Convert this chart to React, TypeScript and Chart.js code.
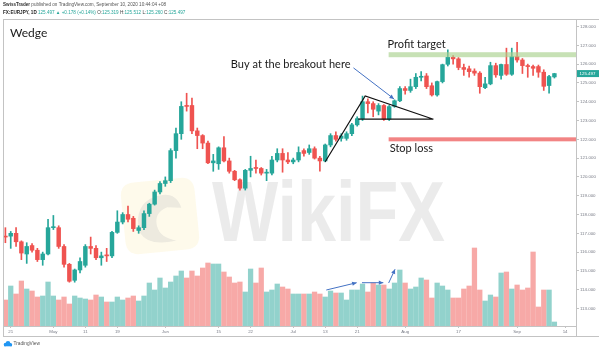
import React, { useEffect, useRef } from 'react';
import { Chart, registerables } from 'chart.js';

Chart.register(...registerables);

// ---- Daily EUR/JPY candles (Apr 20 - Sep 10, 2020), index 0..103 ----
const opens = [
  116.85, 116.85, 117.0, 116.55, 115.9, 116.35, 116.1, 115.6, 115.9, 117.3,
  117.3, 116.3, 115.35, 114.5, 115.05, 115.3, 116.3, 116.2, 115.7, 115.85,
  115.8, 117.05, 117.6, 118.0, 117.8, 117.15, 117.3, 118.05, 118.55, 119.2,
  119.65, 119.8, 121.4, 122.3, 123.8, 123.8, 122.45, 122.2, 121.8, 120.75,
  120.7, 121.55, 120.85, 120.3, 119.85, 119.4, 120.35, 120.5, 120.45, 120.2,
  120.2, 120.9, 121.25, 120.9, 120.8, 120.9, 121.4, 121.3, 121.5, 121.0,
  120.85, 121.7, 122.2, 122.05, 122.05, 122.3, 122.77, 123.1, 124.0, 123.9,
  123.5, 123.8, 123.07, 123.75, 124.05, 124.7, 124.6, 124.8, 125.3, 125.37,
  124.85, 124.36, 125.07, 125.99, 126.36, 126.28, 125.82, 125.75, 125.63, 125.52,
  124.75, 124.95, 125.92, 125.4, 125.98, 125.46, 126.4, 126.22, 125.92, 125.87,
  125.87, 125.57, 124.86, 125.319,
];
const highs = [
  117.3, 117.1, 117.3, 116.6, 116.5, 116.45, 116.2, 116.0, 117.75, 117.95,
  117.4, 116.4, 115.4, 115.1, 115.7, 116.4, 116.8, 116.35, 116.0, 116.2,
  117.1, 118.2, 118.1, 118.45, 117.9, 117.4, 118.2, 118.6, 119.3, 119.75,
  120.0, 121.5, 122.6, 124.0, 124.45, 124.2, 122.6, 122.25, 121.9, 121.2,
  121.6, 122.15, 121.0, 120.35, 119.9, 120.4, 121.1, 120.9, 120.5, 120.4,
  121.1, 121.5, 121.5, 121.3, 121.0, 121.6, 121.5, 121.7, 121.6, 121.1,
  121.75, 122.3, 122.4, 122.3, 122.4, 122.85, 123.2, 124.3, 124.15, 124.0,
  123.9, 123.85, 123.8, 124.1, 124.8, 124.8, 125.2, 125.5, 125.6, 125.5,
  125.0, 125.1, 126.0, 126.76, 126.45, 126.35, 126.0, 125.9, 125.75, 125.6,
  125.3, 126.1, 126.05, 126.0, 126.85, 126.85, 127.16, 126.3, 126.0, 125.95,
  125.95, 125.7, 125.4, 125.512,
];
const lows = [
  116.5, 116.2, 116.3, 115.6, 115.4, 116.0, 115.5, 115.3, 115.85, 117.2,
  116.2, 115.2, 114.4, 114.4, 114.9, 115.2, 115.9, 115.6, 115.3, 115.5,
  115.7, 117.0, 117.5, 117.6, 117.1, 117.0, 117.2, 117.9, 118.5, 119.1,
  119.5, 119.7, 121.0, 122.0, 123.5, 122.3, 121.5, 121.5, 120.7, 120.3,
  120.4, 120.8, 120.2, 119.8, 119.3, 119.3, 120.0, 120.2, 120.1, 119.8,
  120.1, 120.8, 120.25, 120.7, 120.7, 120.8, 121.1, 121.2, 120.95, 120.3,
  120.8, 121.6, 121.9, 121.9, 121.95, 122.2, 122.7, 123.0, 123.4, 123.2,
  123.3, 123.0, 123.0, 123.7, 124.0, 124.4, 124.5, 124.7, 125.1, 124.7,
  124.3, 124.3, 125.0, 125.9, 126.0, 125.7, 125.4, 125.3, 125.4, 124.45,
  124.7, 124.9, 125.3, 125.2, 125.4, 125.4, 126.1, 125.5, 125.3, 125.4,
  125.3, 124.6, 124.45, 125.26,
];
const closes = [
  116.8, 117.0, 116.55, 115.95, 116.3, 116.1, 115.6, 115.9, 117.3, 117.35,
  116.3, 115.35, 114.45, 115.05, 115.5, 116.3, 116.2, 115.7, 115.8, 115.8,
  117.05, 117.6, 118.0, 117.75, 117.25, 117.3, 118.05, 118.55, 119.2, 119.65,
  119.8, 121.4, 122.3, 123.75, 123.75, 122.45, 122.2, 121.8, 120.75, 120.85,
  121.55, 120.85, 120.3, 119.85, 119.4, 120.35, 120.45, 120.45, 120.2, 120.25,
  120.9, 121.25, 120.9, 120.8, 120.9, 121.3, 121.25, 121.5, 121.0, 120.85,
  121.7, 122.2, 122.0, 122.18, 122.3, 122.77, 123.1, 124.0, 123.9, 123.6,
  123.8, 123.07, 123.74, 124.05, 124.7, 124.6, 124.8, 125.3, 125.35, 124.8,
  124.36, 125.07, 125.97, 126.36, 126.28, 125.82, 125.72, 125.6, 125.52, 124.8,
  124.95, 125.92, 125.43, 125.98, 125.46, 126.4, 126.22, 125.92, 125.87, 125.78,
  125.57, 124.82, 125.34, 125.497,
];
const volumes = [
  26, 40, 32, 45, 37, 35, 29, 30, 44, 30,
  26, 29, 22, 30, 28, 27, 26, 31, 29, 24,
  24, 29, 26, 28, 30, 25, 30, 43, 36, 48,
  38, 44, 50, 55, 48, 55, 50, 58, 63, 62,
  62, 54, 49, 43, 44, 34, 57, 43, 58, 34,
  36, 42, 39, 37, 32, 32, 32, 32, 34, 32,
  29, 35, 33, 33, 26, 36, 36, 42, 34, 43,
  41, 41, 37, 43, 56, 43, 37, 39, 48, 46,
  28, 43, 40, 36, 28, 28, 37, 40, 78, 36,
  25, 31, 29, 53, 54, 37, 41, 36, 38, 74,
  19, 36, 36, 4,
];

// ---- Axis ticks ----
const xTickIndex = [1, 9, 15, 21, 30, 40, 46, 54, 60, 66, 75, 85, 96, 105];
const xTickLabels = ['21', 'May', '11', '19', 'Jun', '15', '22', 'Jul', '13', '21', 'Aug', '17', 'Sep', '14'];
const priceTicks = [113, 114, 115, 116, 117, 118, 119, 120, 121, 122, 123, 124, 125, 126, 127, 128];

// ---- Annotations (data coordinates: [candle index, price]) ----
const profitTarget = 126.5;
const stopLoss = 122;
const levelStartIndex = 71.9;
const wedgeLine = [[60, 120.81], [67.5, 124.31], [80.3, 123.07]];
const wedgeBase = [[66.2, 123.07], [80.3, 123.07]];
const buyArrow = [[65.3, 125.8], [72.9, 124.15]];
const volumeArrows = [
  [[60.2, 36], [65.9, 43.3]],
  [[66.9, 43.3], [70.9, 43.3]],
  [[71.9, 43], [73.1, 56.7]],
];
const labelProfit = { text: 'Profit target', at: [71.7, 127.05] };
const labelStop = { text: 'Stop loss', at: [72.1, 121.49] };
const labelBuy = { text: 'Buy at the breakout here', at: [42.3, 125.96] };

const TEAL = '#26a69a';
const RED = '#ef5350';
const TEAL_VOL = 'rgba(38,166,154,0.5)';
const RED_VOL = 'rgba(239,83,80,0.5)';
const FRAME = '#c3c3c3';
const ARROW = '#4472c4';

function drawArrow(ctx: CanvasRenderingContext2D, x1: number, y1: number, x2: number, y2: number) {
  ctx.save();
  ctx.strokeStyle = ARROW;
  ctx.fillStyle = ARROW;
  ctx.lineWidth = 1;
  ctx.beginPath();
  ctx.moveTo(x1, y1);
  ctx.lineTo(x2, y2);
  ctx.stroke();
  const a = Math.atan2(y2 - y1, x2 - x1);
  const h = 5;
  ctx.beginPath();
  ctx.moveTo(x2, y2);
  ctx.lineTo(x2 - h * Math.cos(a - 0.45), y2 - h * Math.sin(a - 0.45));
  ctx.lineTo(x2 - h * Math.cos(a + 0.45), y2 - h * Math.sin(a + 0.45));
  ctx.closePath();
  ctx.fill();
  ctx.restore();
}

function roundRect(ctx: CanvasRenderingContext2D, x: number, y: number, w: number, h: number, r: number) {
  ctx.beginPath();
  ctx.moveTo(x + r, y);
  ctx.lineTo(x + w - r, y);
  ctx.quadraticCurveTo(x + w, y, x + w, y + r);
  ctx.lineTo(x + w, y + h - r);
  ctx.quadraticCurveTo(x + w, y + h, x + w - r, y + h);
  ctx.lineTo(x + r, y + h);
  ctx.quadraticCurveTo(x, y + h, x, y + h - r);
  ctx.lineTo(x, y + r);
  ctx.quadraticCurveTo(x, y, x + r, y);
  ctx.closePath();
}

function drawSegs(ctx: CanvasRenderingContext2D, x: number, y: number, size: number, segs: [string, string, boolean][]) {
  for (const [text, color, bold] of segs) {
    ctx.font = `${bold ? 'bold ' : ''}${size}px "Liberation Sans"`;
    ctx.fillStyle = color;
    ctx.fillText(text, x, y);
    x += ctx.measureText(text).width;
  }
}

const overlayPlugin = {
  id: 'overlay',
  beforeDatasetsDraw(chart: any) {
    const ctx: CanvasRenderingContext2D = chart.ctx;
    ctx.save();
    // WikiFX watermark (logo square + eagle)
    ctx.translate(160, 216);
    ctx.rotate(-0.1);
    ctx.fillStyle = 'rgba(252, 238, 190, 0.3)';
    roundRect(ctx, -37, -36, 74, 72, 14);
    ctx.fill();
    ctx.fillStyle = 'rgba(195,195,195,0.3)';
    ctx.beginPath();
    ctx.moveTo(-22, 14);
    ctx.quadraticCurveTo(-26, -14, -2, -20);
    ctx.quadraticCurveTo(18, -24, 22, -6);
    ctx.lineTo(8, -8);
    ctx.quadraticCurveTo(-6, -4, -4, 10);
    ctx.quadraticCurveTo(-2, 22, 14, 26);
    ctx.quadraticCurveTo(-14, 30, -22, 14);
    ctx.closePath();
    ctx.fill();
    ctx.restore();

    ctx.save();
    ctx.fillStyle = 'rgba(210,210,210,0.45)';
    ctx.font = 'bold 86px "Liberation Sans"';
    ctx.textBaseline = 'alphabetic';
    ctx.translate(212, 241);
    ctx.scale(0.815, 1);
    ctx.fillText('WikiFX', 0, 0);
    ctx.restore();
  },
  afterDraw(chart: any) {
    const ctx: CanvasRenderingContext2D = chart.ctx;
    const { x, y, yv } = chart.scales;
    const area = chart.chartArea;
    const px = (i: number) => x.getPixelForValue(i);
    const py = (p: number) => y.getPixelForValue(p);
    const pv = (v: number) => yv.getPixelForValue(v);
    ctx.save();

    // frame
    ctx.strokeStyle = FRAME;
    ctx.lineWidth = 1;
    ctx.beginPath();
    ctx.moveTo(area.left + 0.5, area.top);
    ctx.lineTo(area.left + 0.5, 337);
    ctx.moveTo(area.left, area.top + 0.5);
    ctx.lineTo(599, area.top + 0.5);
    ctx.moveTo(area.left, 336.5);
    ctx.lineTo(599, 336.5);
    ctx.moveTo(area.right + 0.5, area.bottom);
    ctx.lineTo(area.right + 0.5, 337);
    ctx.stroke();

    // profit target band and stop-loss line
    ctx.fillStyle = 'rgba(169, 209, 142, 0.65)';
    ctx.fillRect(px(levelStartIndex), py(profitTarget) - 2.5, area.right - px(levelStartIndex), 5);
    ctx.fillStyle = 'rgba(240, 110, 110, 0.85)';
    ctx.fillRect(px(levelStartIndex), py(stopLoss) - 2, area.right - px(levelStartIndex), 4);

    // wedge
    ctx.strokeStyle = '#111';
    ctx.lineWidth = 1.2;
    ctx.beginPath();
    wedgeLine.forEach(([i, p], k) => (k === 0 ? ctx.moveTo(px(i), py(p)) : ctx.lineTo(px(i), py(p))));
    ctx.moveTo(px(wedgeBase[0][0]), py(wedgeBase[0][1]));
    ctx.lineTo(px(wedgeBase[1][0]), py(wedgeBase[1][1]));
    ctx.stroke();

    // arrows
    drawArrow(ctx, px(buyArrow[0][0]), py(buyArrow[0][1]), px(buyArrow[1][0]), py(buyArrow[1][1]));
    volumeArrows.forEach(([a, b]) => drawArrow(ctx, px(a[0]), pv(a[1]), px(b[0]), pv(b[1])));

    // text labels
    ctx.fillStyle = '#1a1a1a';
    ctx.textBaseline = 'middle';
    ctx.textAlign = 'left';
    ctx.font = '12px Lato';
    ctx.fillText('Wedge', 10, 33);
    ctx.font = '11px Lato';
    for (const l of [labelProfit, labelStop, labelBuy]) {
      ctx.fillText(l.text, px(l.at[0]), py(l.at[1]));
    }

    // header
    ctx.textBaseline = 'middle';
    drawSegs(ctx, 3, 5, 4.6, [
      ['SwissTrader', '#333', true],
      [' published on TradingView.com, September 10, 2020 10:44:04 +08', '#555', false],
    ]);
    drawSegs(ctx, 3, 12.5, 4.6, [
      ['FX:EURJPY, 1D ', '#222', true],
      ['125.497 \u25B2 +0.178 (+0.14%) ', TEAL, false],
      ['O:', '#444', false], ['125.319 ', TEAL, false],
      ['H:', '#444', false], ['125.512 ', TEAL, false],
      ['L:', '#444', false], ['125.260 ', TEAL, false],
      ['C:', '#444', false], ['125.497', TEAL, false],
    ]);

    // last price badge
    const lastClose = closes[closes.length - 1];
    const by = py(lastClose);
    ctx.fillStyle = TEAL;
    ctx.fillRect(area.right + 1, by - 3.5, 22, 7);
    ctx.fillStyle = '#fff';
    ctx.font = '4.4px "Liberation Sans"';
    ctx.fillText(lastClose.toFixed(3), area.right + 3.5, by + 0.3);

    // TradingView logo
    ctx.fillStyle = '#2196f3';
    ctx.beginPath();
    ctx.arc(5.5, 344.5, 1.8, 0, Math.PI * 2);
    ctx.arc(8, 343.3, 2.3, 0, Math.PI * 2);
    ctx.arc(10.5, 344.6, 1.7, 0, Math.PI * 2);
    ctx.fill();
    ctx.fillRect(4, 344.5, 8, 1.8);
    ctx.fillStyle = '#555';
    ctx.font = '4.8px "Liberation Sans"';
    ctx.fillText('TradingView', 13.5, 344);
    ctx.restore();
  },
};

export default function App() {
  const ref = useRef<HTMLCanvasElement>(null);
  useEffect(() => {
    document.body.style.margin = '0';
    const idx = opens.map((_, i) => i);
    const up = idx.map((i) => closes[i] >= opens[i]);
    const chart = new Chart(ref.current as HTMLCanvasElement, {
      type: 'bar',
      data: {
        datasets: [
          {
            label: 'Body',
            data: idx.map((i) => ({ x: i, y: [opens[i], closes[i]] })) as any,
            backgroundColor: idx.map((i) => (up[i] ? TEAL : RED)),
            barThickness: 3.8,
            minBarLength: 1,
            grouped: false,
            order: 1,
            yAxisID: 'y',
          } as any,
          {
            label: 'Wick',
            data: idx.map((i) => ({ x: i, y: [lows[i], highs[i]] })) as any,
            backgroundColor: idx.map((i) => (up[i] ? TEAL : RED)),
            barThickness: 1,
            grouped: false,
            order: 2,
            yAxisID: 'y',
          } as any,
          {
            label: 'Volume',
            data: idx.map((i) => ({ x: i, y: volumes[i] })) as any,
            backgroundColor: idx.map((i) => (up[i] ? TEAL_VOL : RED_VOL)),
            barThickness: 4.6,
            grouped: false,
            order: 3,
            yAxisID: 'yv',
          } as any,
        ],
      },
      options: {
        animation: false,
        responsive: false,
        events: [],
        layout: { padding: { left: 3, top: 19, right: 0, bottom: 0 } },
        plugins: { legend: { display: false }, tooltip: { enabled: false } },
        scales: {
          x: {
            type: 'linear',
            min: -0.45,
            max: 107.05,
            offset: false,
            afterBuildTicks: (s: any) => {
              s.ticks = xTickIndex.map((v) => ({ value: v }));
            },
            afterFit: (s: any) => {
              s.height = 25;
            },
            ticks: {
              autoSkip: false,
              maxRotation: 0,
              padding: 1,
              color: '#787b86',
              font: { size: 4.4, family: 'Liberation Sans' },
              callback: (_v: any, i: number) => xTickLabels[i],
            },
            grid: { drawOnChartArea: false, drawTicks: true, tickLength: 2, color: FRAME, offset: false },
            border: { color: FRAME },
          },
          y: {
            type: 'linear',
            position: 'right',
            min: 112.07,
            max: 128.4,
            afterBuildTicks: (s: any) => {
              s.ticks = priceTicks.map((v) => ({ value: v }));
            },
            afterFit: (s: any) => {
              s.width = 26;
            },
            ticks: {
              padding: 1,
              color: '#787b86',
              font: { size: 4.4, family: 'Liberation Sans' },
              callback: (v: any) => Number(v).toFixed(3),
            },
            grid: { drawOnChartArea: false, drawTicks: true, tickLength: 3, color: FRAME },
            border: { color: FRAME },
          },
          yv: { type: 'linear', display: false, min: 0, max: 307 },
        },
      } as any,
      plugins: [overlayPlugin],
    });
    return () => chart.destroy();
  }, []);
  return (
    <div style={{ position: 'relative', width: 602, height: 351, background: '#fff' }}>
      <canvas ref={ref} width={602} height={351} style={{ display: 'block' }} />
    </div>
  );
}
